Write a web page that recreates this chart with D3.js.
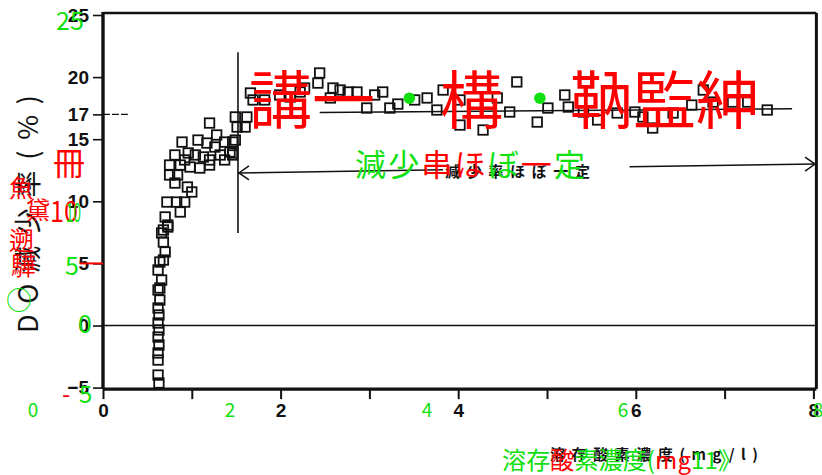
<!DOCTYPE html>
<html>
<head>
<meta charset="utf-8">
<script src="https://cdn.jsdelivr.net/npm/d3@7"></script>
<style>
  html, body { margin: 0; padding: 0; background: #fff; }
  svg { display: block; }
</style>
</head>
<body>
<svg id="chart" width="822" height="475"></svg>
<script>
// Dissolved oxygen concentration (mg/l) of each sample
const doConc = [
  0.63, 0.62, 0.62, 0.62, 0.63, 0.62, 0.63, 0.62, 0.63, 0.62,
  0.64, 0.62, 0.64, 0.66, 0.62, 0.64, 0.68, 0.70, 0.68, 0.66,
  0.68, 0.73, 0.73, 0.70, 0.87, 0.72, 0.83, 0.92,
  1.00, 0.95, 0.81, 0.75, 0.84, 0.75, 0.87, 0.98, 1.09, 1.20,
  1.20, 1.37, 0.92, 0.81, 0.96, 1.04, 1.13, 1.32, 1.46, 1.43,
  1.26, 1.37, 1.46, 1.17, 0.89, 1.07, 1.28, 1.20, 1.49, 1.46,
  1.49, 1.62, 1.51, 1.60, 1.66, 1.69,
  1.82, 1.99, 2.11, 2.22, 2.27, 2.44, 2.42, 2.59, 2.67, 2.76,
  2.86, 2.56, 2.97, 3.06, 3.15, 3.23, 3.32, 3.51, 3.65, 3.76,
  3.83, 4.02, 4.02, 4.28, 4.44, 4.58, 4.66, 4.89, 5.01, 5.20,
  5.24, 5.41, 5.57, 5.79, 5.99, 6.08, 6.19, 6.42, 6.63, 6.76,
  6.87, 7.09, 7.26, 7.48
];
// DO reduction rate (%) of each sample
const doReduction = [
  -4.63, -3.99, -2.78, -2.21, -1.57, -0.93, -0.36, 0.20, 0.85, 1.41,
  2.05, 2.86, 3.02, 3.66, 4.47, 5.11, 5.27, 5.92, 6.72, 7.45,
  7.69, 7.93, 8.09, 8.74, 9.14, 9.94, 9.94, 9.94,
  10.75, 11.15, 11.47, 12.12, 12.12, 12.92, 12.92, 12.76, 12.68, 12.92,
  13.33, 13.33, 13.33, 13.73, 13.89, 13.73, 13.57, 13.73, 13.73, 13.97,
  14.37, 14.77, 14.77, 14.69, 14.77, 14.93, 15.34, 16.30, 14.93, 13.89,
  16.79, 16.79, 15.98, 15.98, 18.72, 18.16,
  18.16, 18.56, 18.40, 18.80, 19.12, 20.33, 19.52, 19.12, 18.96, 18.80,
  18.80, 18.32, 17.51, 18.56, 18.80, 17.51, 17.83, 18.16, 18.32, 17.35,
  18.96, 18.16, 16.14, 15.74, 18.32, 17.19, 19.61, 16.38, 17.51, 18.56,
  17.59, 17.19, 16.55, 17.11, 17.19, 16.79, 15.90, 17.11, 17.75, 18.96,
  17.99, 17.99, 17.99, 17.35
];

const xTicks = [0, 1, 2, 3, 4, 5, 6, 7, 8];
const xTickLabels = ["0", "", "2", "", "4", "", "6", "", "8"];
const yTicks = [25, 20, 17, 15, 10, 5, 0, -5];

// Mean level of the plateau and the boundary of the constant-rate range
const plateauLine = { x: [2.44, 7.76], y: [17.15, 17.45] };
const boundaryX = 1.52;
const boundaryY = [22.0, 7.45];
const rangeArrow = { x: [1.52, 3.83, 5.93, 8.03], y: [12.28, 12.54, 12.78, 13.0] };
const markerDots = { x: [3.45, 4.92], y: [18.3, 18.3] };

const xTitle = "溶存酸素濃度(mg/l)";
const yTitle = "DO減少率(%)";
const rangeNote = "減少率ほぼ一定";

const svg = d3.select("#chart");
const x = d3.scaleLinear().domain([0, 8]).range([103, 813.4]);
const y = d3.scaleLinear().domain([-5, 25]).range([387.6, 15]);

const jp = "'Noto Sans CJK JP', 'Noto Sans CJK SC', sans-serif";
const num = "'Liberation Sans', Arial, sans-serif";
const ink = "#111";

const frameL = x(0), frameR = x(8) + 3, frameT = y(25) - 2, frameB = y(-5) + 1.5;

// ---- axes ----
const gy = svg.append("g").attr("transform", `translate(${frameL},0)`)
  .call(d3.axisLeft(y).tickValues(yTicks).tickSize(10).tickPadding(4).tickFormat(d3.format("d")));
gy.select(".domain").remove();
gy.selectAll(".tick line").attr("stroke", ink).attr("stroke-width", 1.6);
gy.selectAll(".tick text").attr("fill", ink).style("font", `bold 19px ${num}`);

const gx = svg.append("g").attr("transform", `translate(0,${frameB})`)
  .call(d3.axisBottom(x).tickValues(xTicks).tickSize(10).tickPadding(4.5)
    .tickFormat((d, i) => xTickLabels[i]));
gx.select(".domain").remove();
gx.selectAll(".tick line").attr("stroke", ink).attr("stroke-width", 2);
gx.selectAll(".tick text").attr("fill", ink).style("font", `bold 19px ${num}`);

// ---- frame ----
const frame = svg.append("g").attr("stroke", ink).attr("fill", "none");
frame.append("line").attr("x1", frameL).attr("x2", frameR).attr("y1", frameT).attr("y2", frameT).attr("stroke-width", 2.5);
frame.append("line").attr("x1", frameR).attr("x2", frameR).attr("y1", frameT).attr("y2", frameB).attr("stroke-width", 3);
frame.append("line").attr("x1", frameL).attr("x2", frameR).attr("y1", frameB).attr("y2", frameB).attr("stroke-width", 3.2);
frame.append("line").attr("x1", frameL).attr("x2", frameL).attr("y1", frameT - 1).attr("y2", frameB).attr("stroke-width", 3.4);

// zero line and the 17 % guide
svg.append("line").attr("x1", frameL).attr("x2", frameR).attr("y1", y(0)).attr("y2", y(0))
  .attr("stroke", ink).attr("stroke-width", 1.5);
svg.append("line").attr("x1", x(0)).attr("x2", x(0.28)).attr("y1", y(17)).attr("y2", y(17))
  .attr("stroke", ink).attr("stroke-width", 1.3).attr("stroke-dasharray", "7,2");

// plateau level
svg.append("line")
  .attr("x1", x(plateauLine.x[0])).attr("x2", x(plateauLine.x[1]))
  .attr("y1", y(plateauLine.y[0])).attr("y2", y(plateauLine.y[1]))
  .attr("stroke", ink).attr("stroke-width", 1.3);

// boundary of the constant range
svg.append("line")
  .attr("x1", x(boundaryX)).attr("x2", x(boundaryX))
  .attr("y1", y(boundaryY[0])).attr("y2", y(boundaryY[1]))
  .attr("stroke", ink).attr("stroke-width", 1.6);

// double arrow spanning the constant range, broken for its note
const ar = svg.append("g").attr("stroke", ink).attr("stroke-width", 1.5).attr("fill", "none");
ar.append("line").attr("x1", x(rangeArrow.x[0])).attr("y1", y(rangeArrow.y[0]))
  .attr("x2", x(rangeArrow.x[1])).attr("y2", y(rangeArrow.y[1]));
ar.append("line").attr("x1", x(rangeArrow.x[2])).attr("y1", y(rangeArrow.y[2]))
  .attr("x2", x(rangeArrow.x[3])).attr("y2", y(rangeArrow.y[3]));
{
  const lx = x(rangeArrow.x[0]), ly = y(rangeArrow.y[0]);
  ar.append("path").attr("d", `M${lx + 11},${ly - 7} L${lx + 1},${ly} L${lx + 11},${ly + 7}`);
  const rx = x(rangeArrow.x[3]), ry = y(rangeArrow.y[3]);
  ar.append("path").attr("d", `M${rx - 11},${ry - 7} L${rx - 1},${ry} L${rx - 11},${ry + 7}`);
}
svg.append("text").attr("x", 445).attr("y", 177)
  .attr("textLength", 145).attr("lengthAdjust", "spacing")
  .attr("fill", ink).style("font", `bold 15px ${jp}`).text(rangeNote);

// ---- samples ----
const pts = doConc.map((v, i) => [v, doReduction[i]]);
const s = 9.5;
svg.append("g").selectAll("rect").data(pts).join("rect")
  .attr("x", d => x(d[0]) - s / 2).attr("y", d => y(d[1]) - s / 2)
  .attr("width", s).attr("height", s)
  .attr("fill", "none").attr("stroke", ink).attr("stroke-width", 1.8);

// ---- axis titles ----
svg.append("text").attr("transform", "translate(38,333) rotate(-90)")
  .attr("textLength", 238).attr("lengthAdjust", "spacing")
  .attr("fill", ink).style("font", `27px ${jp}`).text(yTitle);
svg.append("text").attr("x", 550).attr("y", 460)
  .attr("textLength", 208).attr("lengthAdjust", "spacing")
  .attr("fill", ink).style("font", `bold 15px ${jp}`).text(xTitle);

// ---- coloured reading layer ----
const RED = "#ff0000", GREEN = "#10e010";
function reading(xp, yp, size, parts, opt = {}) {
  const t = svg.append("text").attr("x", xp).attr("y", yp)
    .style("font-family", opt.family || jp).style("font-size", size + "px");
  if (opt.len) t.attr("textLength", opt.len).attr("lengthAdjust", opt.adjust || "spacing");
  parts.forEach(([str, c]) => t.append("tspan").attr("fill", c).text(str));
  return t;
}

reading(249, 123, 63, [["講一", RED]]);
reading(440, 123, 63, [["構", RED]]);
reading(570, 123, 63, [["靹監紳", RED]]);
reading(355, 176, 31, [["減少", GREEN], ["串ほ", RED], ["ぼ", GREEN], ["一", RED], ["定", GREEN]], { len: 230 });
reading(53, 175, 32, [["冊", RED]]);
reading(9, 197, 24, [["魚", RED]]);
reading(26, 219, 24, [["黛", RED]]);
reading(50, 222, 29, [["10", RED]], { len: 28, adjust: "spacingAndGlyphs" });
reading(66, 222, 26, [["10", GREEN]], { len: 15, adjust: "spacingAndGlyphs" });
reading(9, 250, 25, [["遡", RED]]);
reading(11, 275, 25, [["驊", RED]]);
reading(56, 30, 25, [["25", GREEN]]);
reading(65, 275, 25, [["5", GREEN]]);
reading(78, 333, 25, [["0", GREEN]]);
reading(62, 403, 24, [["-", RED]]);
reading(79, 403, 24, [["5", GREEN]]);
reading(6, 310, 26, [["○", GREEN]]);
svg.append("line").attr("x1", 80).attr("x2", frameL).attr("y1", y(5)).attr("y2", y(5))
  .attr("stroke", RED).attr("stroke-width", 2);

[["0", 33], ["2", 230], ["4", 427], ["6", 623], ["8", 818]].forEach(([d, cx]) => {
  reading(cx, 417, 19, [[d, GREEN]]).attr("text-anchor", "middle");
});

markerDots.x.forEach((v, i) => {
  svg.append("circle").attr("cx", x(v)).attr("cy", y(markerDots.y[i])).attr("r", 5.8).attr("fill", GREEN);
});

reading(502, 469, 24, [["溶存", GREEN], ["酸", RED], ["素濃度(", GREEN], ["mg", RED], ["11》", GREEN]], { len: 240 });
</script>
</body>
</html>
